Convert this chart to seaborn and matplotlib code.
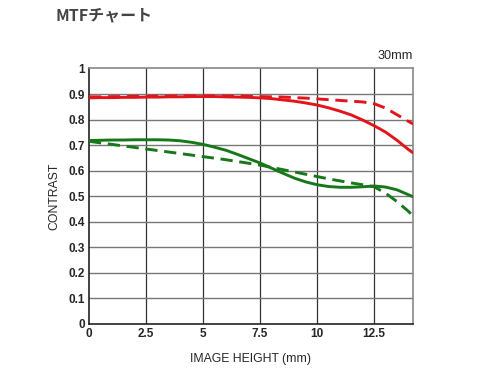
import numpy as np
import pandas as pd
import seaborn as sns
import matplotlib
matplotlib.use("Agg")
import matplotlib.pyplot as plt

# image height positions (mm) and contrast values
height_mm = [0, 0.5, 1, 1.5, 2, 2.5, 3, 3.5, 4, 4.5, 5, 5.5, 6, 6.5, 7, 7.5,
             8, 8.5, 9, 9.5, 10, 10.5, 11, 11.5, 12, 12.5, 13, 13.5, 14, 14.2]

red_solid = [0.885, 0.886, 0.886, 0.887, 0.887, 0.888, 0.888, 0.889, 0.889, 0.890,
             0.890, 0.890, 0.889, 0.888, 0.887, 0.885, 0.882, 0.877, 0.872, 0.865,
             0.857, 0.846, 0.833, 0.818, 0.798, 0.776, 0.751, 0.719, 0.683, 0.670]
red_dash = [0.889, 0.889, 0.890, 0.890, 0.891, 0.891, 0.892, 0.892, 0.893, 0.893,
            0.893, 0.893, 0.892, 0.892, 0.891, 0.890, 0.889, 0.888, 0.886, 0.884,
            0.881, 0.878, 0.875, 0.872, 0.869, 0.862, 0.845, 0.819, 0.793, 0.783]
green_solid = [0.718, 0.719, 0.720, 0.720, 0.721, 0.721, 0.721, 0.720, 0.717, 0.711,
               0.703, 0.692, 0.680, 0.664, 0.647, 0.630, 0.610, 0.590, 0.571, 0.556,
               0.545, 0.538, 0.535, 0.535, 0.537, 0.540, 0.536, 0.525, 0.506, 0.498]
green_dash = [0.715, 0.709, 0.703, 0.697, 0.691, 0.685, 0.679, 0.673, 0.667, 0.661,
              0.655, 0.649, 0.643, 0.636, 0.629, 0.622, 0.613, 0.604, 0.595, 0.586,
              0.577, 0.568, 0.560, 0.552, 0.545, 0.537, 0.512, 0.479, 0.441, 0.423]

rows = []
for name, vals in [("red_solid", red_solid), ("red_dash", red_dash),
                   ("green_solid", green_solid), ("green_dash", green_dash)]:
    for x, y in zip(height_mm, vals):
        rows.append({"height": x, "contrast": y, "series": name})
df = pd.DataFrame(rows)

sns.set_style("white")
plt.rcParams["font.family"] = ["Liberation Sans", "Noto Sans CJK JP", "DejaVu Sans"]

fig = plt.figure(figsize=(4.9, 3.68), dpi=100)
ax = fig.add_axes([0.1816, 0.1196, 0.6612, 0.6943])

palette = {"red_solid": "#e3141b", "red_dash": "#e3141b",
           "green_solid": "#17781a", "green_dash": "#17781a"}
dashes = {"red_solid": "", "red_dash": (4.2, 2.3),
          "green_solid": "", "green_dash": (4.2, 2.3)}
sns.lineplot(data=df, x="height", y="contrast", hue="series", style="series",
             palette=palette, dashes=dashes, linewidth=2.1, legend=False, ax=ax,
             zorder=3)

ax.set_xlim(0, 14.2)
ax.set_ylim(0, 1)
ax.set_xticks([0, 2.5, 5, 7.5, 10, 12.5])
ax.set_xticklabels(["0", "2.5", "5", "7.5", "10", "12.5"])
ax.set_yticks(np.round(np.arange(0, 1.01, 0.1), 1))
ax.set_yticklabels(["0", "0.1", "0.2", "0.3", "0.4", "0.5", "0.6", "0.7", "0.8", "0.9", "1"])
for lbl in ax.get_xticklabels() + ax.get_yticklabels():
    lbl.set_fontweight("bold")
    lbl.set_fontsize(8.5)
ax.tick_params(length=0, pad=3)

for x in [2.5, 5, 7.5, 10, 12.5]:
    ax.axvline(x, color="#333333", lw=0.9, zorder=1)
for y in np.arange(0.1, 1.0, 0.1):
    ax.axhline(y, color="#777777", lw=1.0, zorder=1)

for side in ["left", "bottom"]:
    ax.spines[side].set_color("#222222")
    ax.spines[side].set_linewidth(1.2)
for side in ["top", "right"]:
    ax.spines[side].set_color("#888888")
    ax.spines[side].set_linewidth(1.2)

ax.set_xlabel("IMAGE HEIGHT (mm)", fontsize=8.8, labelpad=9)
ax.set_ylabel("CONTRAST", fontsize=8.8, labelpad=6)
ax.text(1.0, 1.025, "30mm", transform=ax.transAxes, ha="right", va="bottom",
        fontsize=9.2)
fig.text(55 / 490, 1 - 15 / 368, "MTFチャート", ha="left", va="center",
         fontsize=11.5, fontweight="bold", color="#444444",
         family=["Noto Sans CJK JP", "DejaVu Sans"])

fig.savefig("out.png", dpi=100)
